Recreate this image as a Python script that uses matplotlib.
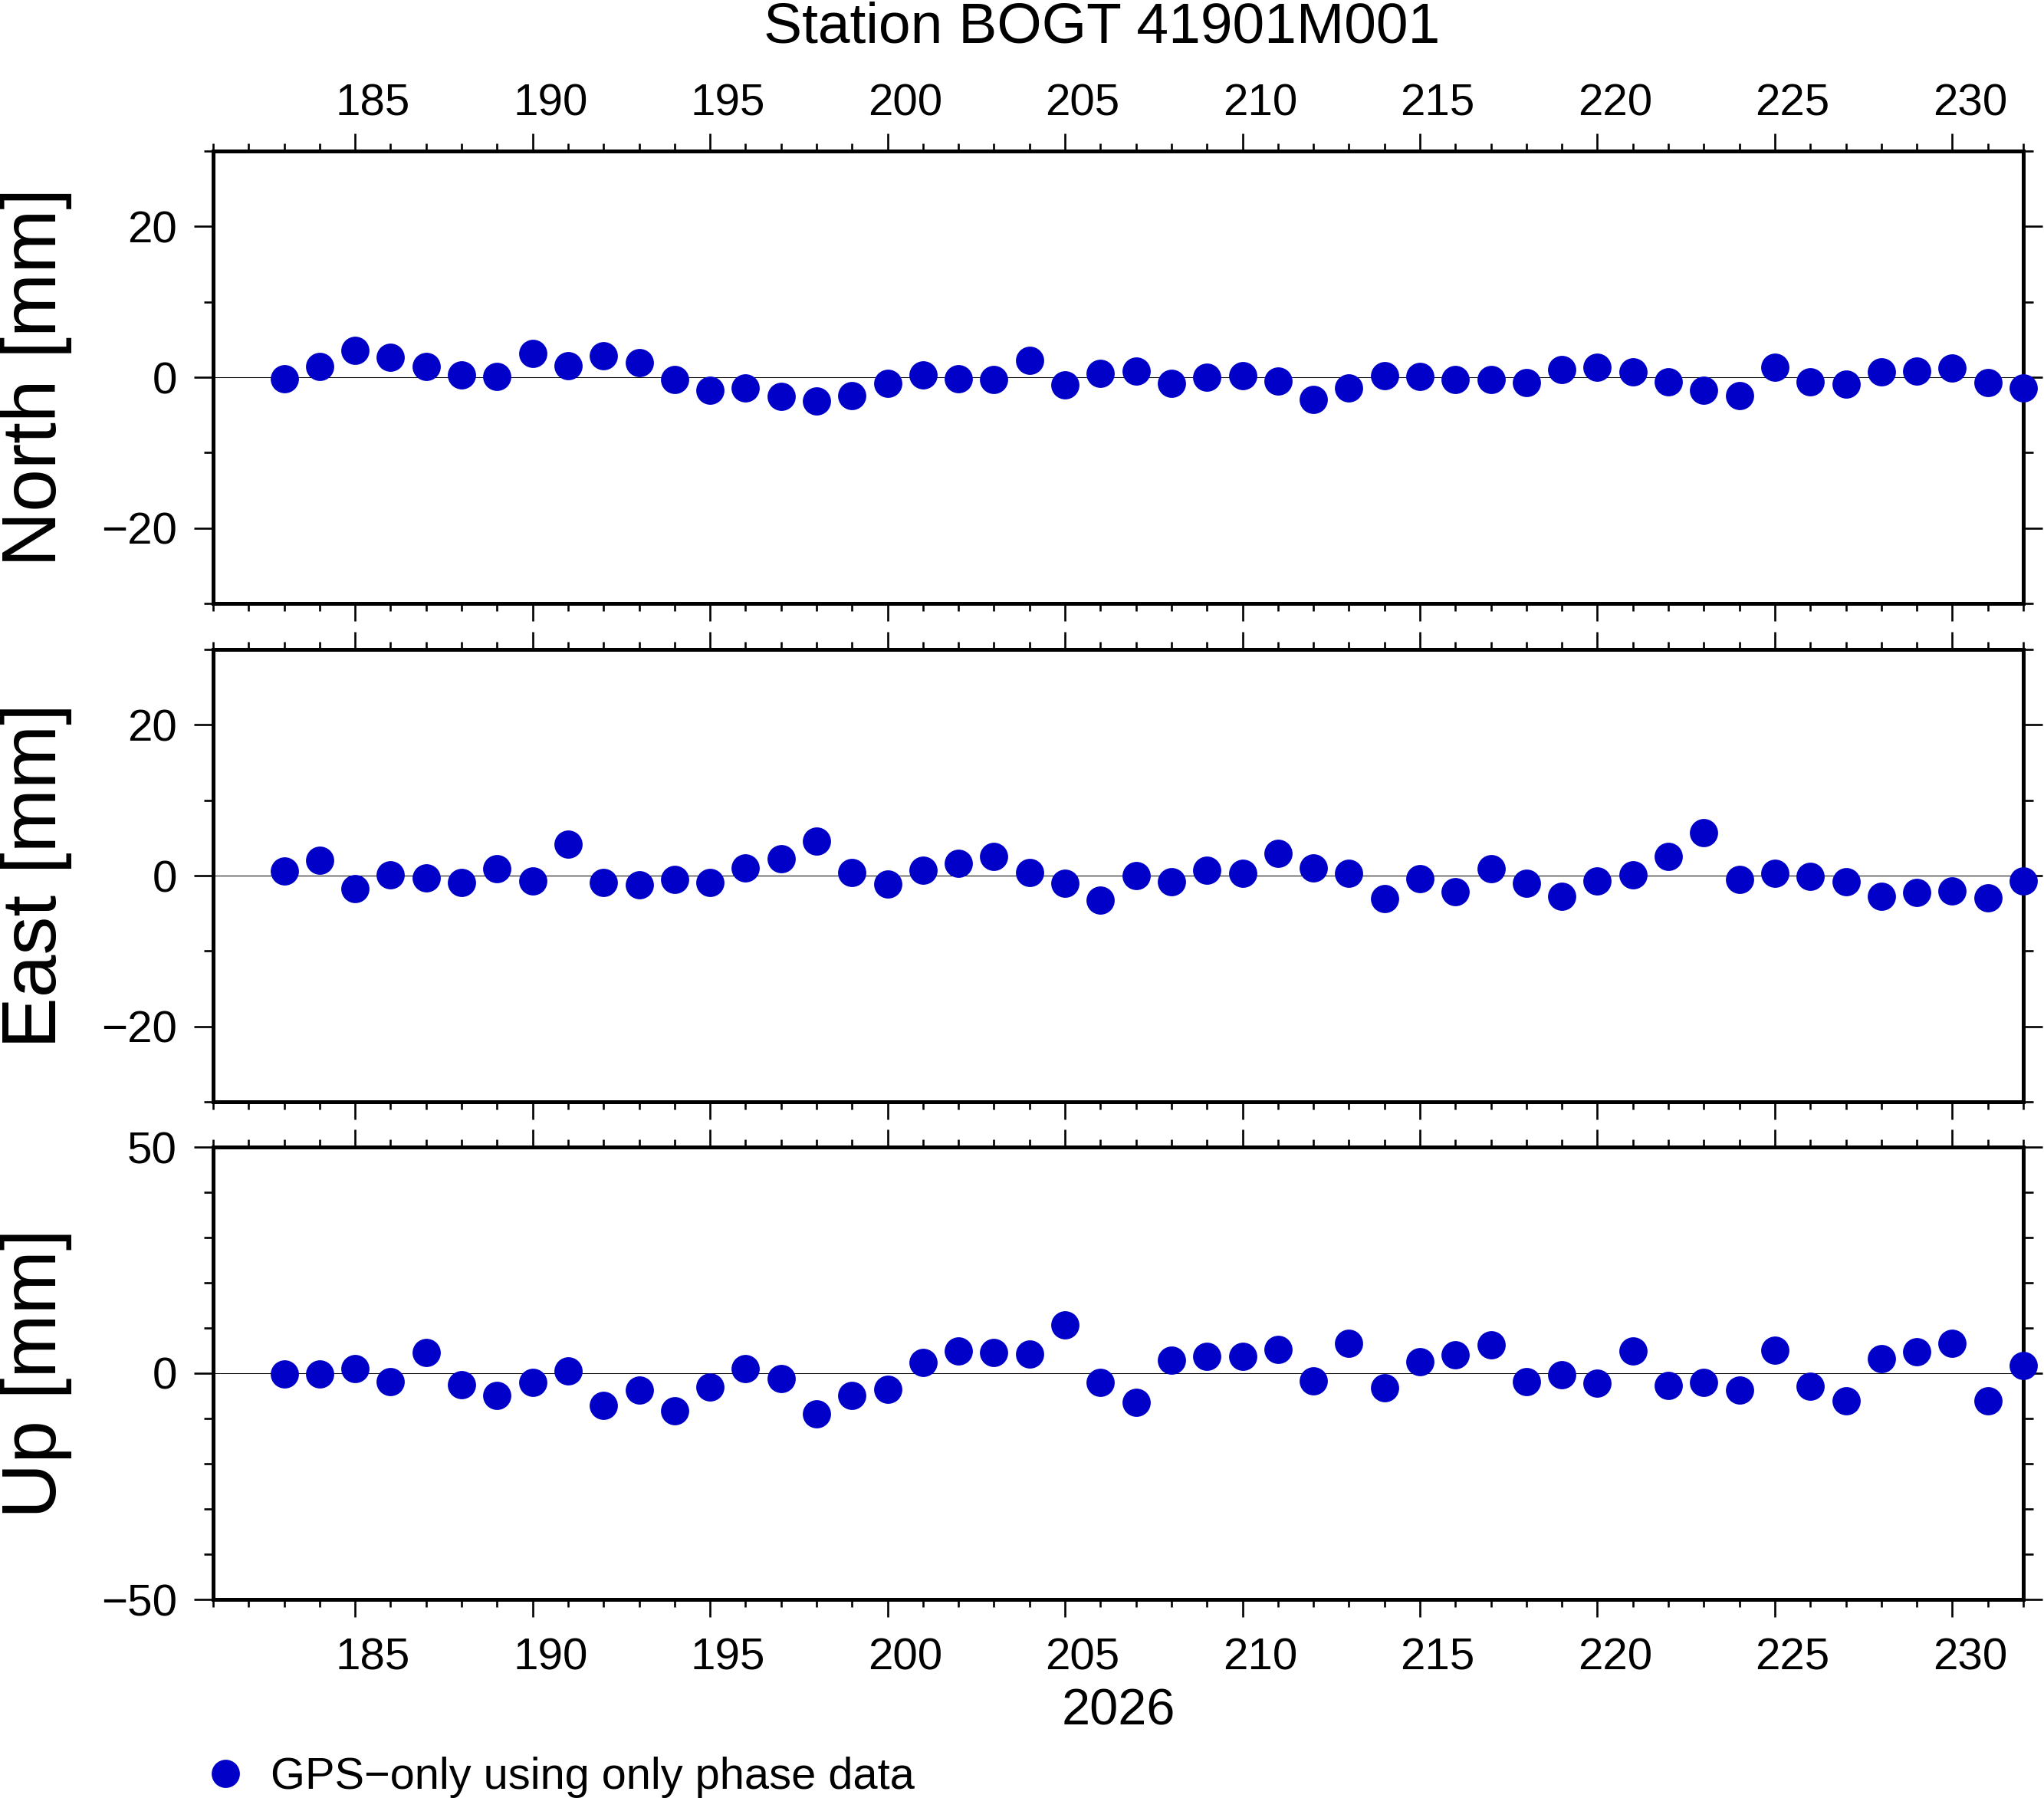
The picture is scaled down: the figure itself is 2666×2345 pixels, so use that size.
import matplotlib
matplotlib.use("Agg")
import matplotlib.pyplot as plt
import matplotlib.transforms as mtransforms
from matplotlib.lines import Line2D
from matplotlib.ticker import FixedLocator, MultipleLocator

plt.rcParams['font.family'] = ['Liberation Sans', 'DejaVu Sans']

# dias del anyo (eje x)
days = [183, 184, 185, 186, 187, 188, 189, 190, 191, 192,
        193, 194, 195, 196, 197, 198, 199, 200, 201, 202,
        203, 204, 205, 206, 207, 208, 209, 210, 211, 212,
        213, 214, 215, 216, 217, 218, 219, 220, 221, 222,
        223, 224, 225, 226, 227, 228, 229, 230, 231, 232]

# componentes en mm
north = [-0.2, 1.4, 3.6, 2.6, 1.4, 0.3, 0.1, 3.2, 1.5, 2.8,
         1.9, -0.3, -1.7, -1.4, -2.5, -3.2, -2.4, -0.8, 0.3, -0.2,
         -0.3, 2.2, -1.0, 0.5, 0.8, -0.8, 0.0, 0.2, -0.5, -2.9,
         -1.4, 0.2, 0.1, -0.3, -0.3, -0.7, 1.0, 1.3, 0.7, -0.6,
         -1.7, -2.4, 1.3, -0.6, -0.9, 0.7, 0.8, 1.2, -0.7, -1.4]
east = [0.6, 2.0, -1.7, 0.1, -0.3, -0.9, 0.9, -0.7, 4.2, -0.9,
        -1.2, -0.5, -0.9, 1.0, 2.2, 4.6, 0.4, -1.1, 0.7, 1.6,
        2.5, 0.4, -1.0, -3.3, 0.0, -0.8, 0.7, 0.3, 2.9, 1.0,
        0.3, -3.1, -0.4, -2.1, 0.9, -1.0, -2.7, -0.7, 0.1, 2.5,
        5.7, -0.5, 0.3, -0.1, -0.8, -2.7, -2.2, -2.0, -2.9, -0.7]
up = [-0.2, -0.2, 1.0, -1.9, 4.6, -2.5, -4.9, -2.0, 0.5, -7.1,
      -3.7, -8.3, -3.1, 1.0, -1.2, -9.0, -4.9, -3.6, 2.4, 4.9,
      4.6, 4.2, 10.7, -2.0, -6.4, 2.9, 3.7, 3.7, 5.3, -1.7,
      6.6, -3.2, 2.5, 4.1, 6.3, -1.9, -0.3, -2.2, 4.9, -2.7,
      -2.0, -3.7, 5.1, -2.9, -6.1, 3.2, 4.8, 6.6, -6.1, 1.7]

titulo = "Station BOGT 41901M001"
year = "2026"
legend_label = "GPS\u2212only using only phase data"
comps = ["North [mm]", "East [mm]", "Up [mm]"]
series = [north, east, up]
ylims = [(-30, 30), (-30, 30), (-50, 50)]
yticks_major = [[-20, 0, 20], [-20, 0, 20], [-50, 0, 50]]
xticks_major = [185, 190, 195, 200, 205, 210, 215, 220, 225, 230]
xlim = (181, 232)

azul = "#0000c8"
W, H = 2666, 2345
fig = plt.figure(figsize=(W / 100, H / 100), dpi=100)

# posicion de los paneles en pixeles
left_px, right_px = 278, 2639
panel_h = 590
tops = [197, 847, 1496]

left = left_px / W
width = (right_px - left_px) / W
# medio dia en pulgadas, para centrar las etiquetas en el dia
half_day = 0.5 * (right_px - left_px) / 100 / (xlim[1] - xlim[0])
offset = mtransforms.ScaledTranslation(half_day, 0, fig.dpi_scale_trans)

for i in range(3):
    top = tops[i]
    ax = fig.add_axes([left, 1 - (top + panel_h) / H, width, panel_h / H])
    ax.axhline(0, color="k", lw=0.75, zorder=1)
    ax.plot(days, series[i], "o", color=azul, ms=26.5, mec="none",
            clip_on=False, zorder=3)
    ax.set_xlim(*xlim)
    ax.set_ylim(*ylims[i])

    ax.xaxis.set_major_locator(FixedLocator(xticks_major))
    ax.xaxis.set_minor_locator(MultipleLocator(1))
    ax.yaxis.set_major_locator(FixedLocator(yticks_major[i]))
    ax.yaxis.set_minor_locator(MultipleLocator(10))

    for s in ax.spines.values():
        s.set_linewidth(3.6)

    ax.tick_params(axis="both", which="both", direction="out", width=1.9,
                   top=True, right=True, labelsize=42)
    ax.tick_params(axis="x", which="major", length=16.5)
    ax.tick_params(axis="x", which="minor", length=7.5)
    ax.tick_params(axis="y", which="major", length=18, pad=16)
    ax.tick_params(axis="y", which="minor", length=9)

    if i == 0:
        ax.tick_params(axis="x", which="major", labeltop=True,
                       labelbottom=False, pad=8)
    elif i == 2:
        ax.tick_params(axis="x", which="major", labeltop=False,
                       labelbottom=True, pad=19)
    else:
        ax.tick_params(axis="x", which="major", labeltop=False,
                       labelbottom=False)

    # etiquetas del eje x desplazadas medio dia
    ax.set_xticks(xticks_major, [str(d) for d in xticks_major])
    for tick in ax.xaxis.get_major_ticks():
        tick.label1.set_transform(tick.label1.get_transform() + offset)
        tick.label2.set_transform(tick.label2.get_transform() + offset)

    fig.text(47 / W, 1 - (top + panel_h / 2) / H, comps[i], rotation=90,
             ha="center", va="center", fontsize=72)

fig.text(1437 / W, 1 - 55 / H, titulo, ha="center", va="baseline", fontsize=54)
fig.text(1459 / W, 1 - 2250 / H, year, ha="center", va="baseline", fontsize=48)

handle = Line2D([], [], marker="o", ls="none", color=azul, ms=26.5, mec="none")
fig.legend([handle], [legend_label], loc="center left",
           bbox_to_anchor=(274 / W, 1 - 2318 / H), frameon=False, fontsize=41.6,
           handlelength=0.7, handletextpad=0.66, borderpad=0, borderaxespad=0)

fig.savefig("out.png", dpi=100)
